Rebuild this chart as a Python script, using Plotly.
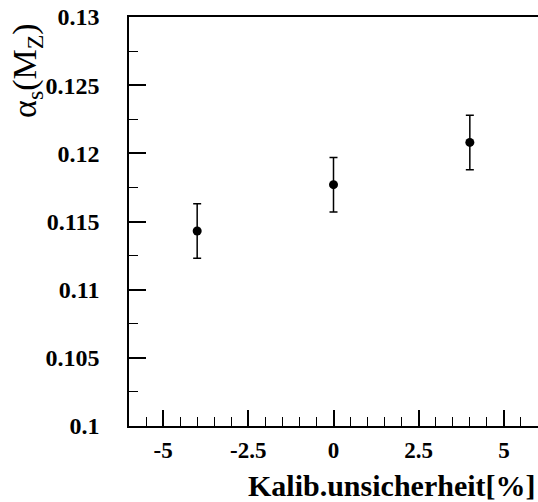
import plotly.graph_objects as go

# Data
kalib = [-4, 0, 4]
alpha_s = [0.1143, 0.1177, 0.1208]
alpha_err = [0.0020, 0.0020, 0.0020]

x_tickvals = [-5, -2.5, 0, 2.5, 5]
x_ticktext = ["-5", "-2.5", "0", "2.5", "5"]
y_tickvals = [0.1, 0.105, 0.11, 0.115, 0.12, 0.125, 0.13]
y_ticktext = ["0.1", "0.105", "0.11", "0.115", "0.12", "0.125", "0.13"]

SERIF = "Liberation Serif, Times New Roman, serif"

fig = go.Figure()
fig.add_trace(go.Scatter(
    x=kalib, y=alpha_s, mode="markers",
    marker=dict(color="black", size=9),
    error_y=dict(type="data", array=alpha_err, visible=True,
                 color="black", thickness=1.5, width=4),
    showlegend=False,
))

xtickfont = dict(family=SERIF, size=23, color="black", weight="bold")
ytickfont = dict(family=SERIF, size=24, color="black", weight="bold")

fig.update_layout(
    width=538, height=502,
    margin=dict(l=129, r=0, t=17, b=76),
    paper_bgcolor="white", plot_bgcolor="white",
    xaxis=dict(
        range=[-6, 6], showgrid=False, zeroline=False,
        showline=True, linecolor="black", linewidth=1.5, mirror=True,
        ticks="inside", ticklen=16, tickwidth=1.5, tickcolor="black",
        tickvals=x_tickvals, ticktext=x_ticktext,
        tickfont=xtickfont, ticklabelstandoff=3,
        minor=dict(dtick=0.5, tick0=0, ticks="inside", ticklen=9,
                   tickwidth=1.2, tickcolor="black", showgrid=False),
    ),
    yaxis=dict(
        range=[0.1, 0.13], showgrid=False, zeroline=False,
        showline=True, linecolor="black", linewidth=1.5, mirror=False,
        ticks="inside", ticklen=17, tickwidth=1.5, tickcolor="black",
        tickvals=y_tickvals, ticktext=y_ticktext,
        tickfont=ytickfont, ticklabelstandoff=23,
        minor=dict(dtick=0.0025, tick0=0.1, ticks="inside", ticklen=9,
                   tickwidth=1.2, tickcolor="black", showgrid=False),
    ),
    annotations=[
        dict(text="<b>Kalib.unsicherheit[%]</b>", xref="paper", yref="paper",
             x=1.0, y=-0.145, xanchor="right", yanchor="middle",
             showarrow=False,
             font=dict(family=SERIF, size=30, color="black")),
        dict(text="α<sub>s</sub>(M<sub>Z</sub>)", xref="paper", yref="paper",
             x=-0.25, y=0.87, xanchor="center", yanchor="middle",
             textangle=-90, showarrow=False,
             font=dict(family=SERIF, size=34, color="black")),
    ],
)

fig.write_html("out.html")
